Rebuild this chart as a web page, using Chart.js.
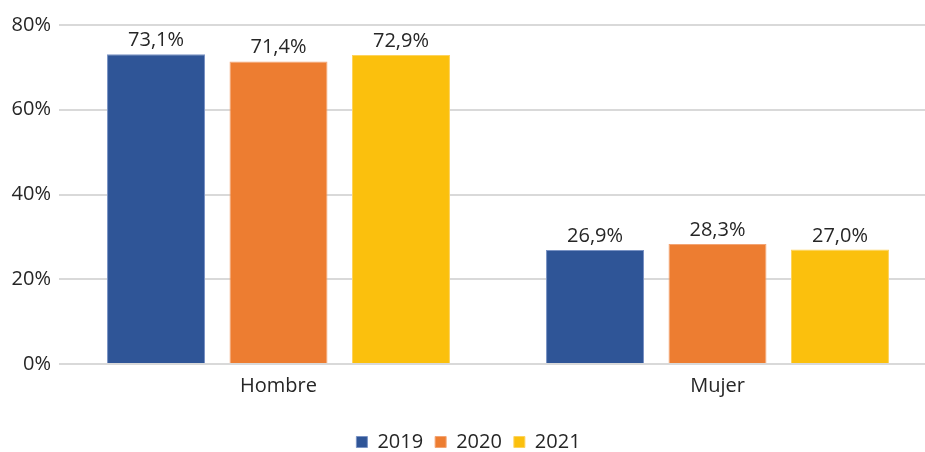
<!DOCTYPE html>
<html>
<head>
<meta charset="utf-8">
<script src="https://cdn.jsdelivr.net/npm/chart.js@4"></script>
<style>
  html, body { margin: 0; padding: 0; background: #fff; overflow: hidden; }
  #wrap { width: 940px; height: 452px; }
</style>
</head>
<body>
<div id="wrap"><canvas id="grab"></canvas></div>
<script>
const categories = ["Hombre", "Mujer"];
const years = ["2019", "2020", "2021"];
const v2019 = [73.1, 26.9];
const v2020 = [71.4, 28.3];
const v2021 = [72.9, 27.0];
const yTicks = [0, 20, 40, 60, 80];

const fills = ["#2F5597", "#ED7D31", "#FBC00D"];
const edges = ["#7a93c4", "#f3a474", "#fdd35e"];
const font = "'Open Sans', 'Liberation Sans', sans-serif";

// value labels above each bar, with decimal comma
const barLabels = {
    id: "barLabels",
    afterDatasetsDraw(chart) {
        const ctx = chart.ctx;
        ctx.save();
        ctx.font = "20px " + font;
        ctx.fillStyle = "#262626";
        ctx.textAlign = "center";
        ctx.textBaseline = "alphabetic";
        chart.data.datasets.forEach((ds, i) => {
            chart.getDatasetMeta(i).data.forEach((bar, j) => {
                const txt = ds.data[j].toFixed(1).replace(".", ",") + "%";
                ctx.fillText(txt, bar.x, bar.y - 8);
            });
        });
        ctx.restore();
    }
};

const grph = document.querySelector("#grab");
const sets = [v2019, v2020, v2021].map((d, i) => ({
    label: years[i],
    data: d,
    backgroundColor: fills[i],
    borderColor: edges[i],
    borderWidth: 1,
    barPercentage: 0.8,
    categoryPercentage: 0.837
}));

new Chart(grph, {
    type: "bar",
    data: { labels: categories, datasets: sets },
    plugins: [barLabels],
    options: {
        responsive: true,
        maintainAspectRatio: false,
        animation: false,
        layout: { padding: { top: 25, right: 3, left: 0, bottom: -10 } },
        scales: {
            x: {
                afterFit: (s) => { s.height = 56; },
                grid: { display: false },
                border: { display: false },
                ticks: { color: "#262626", font: { family: font, size: 20 }, padding: 2 }
            },
            y: {
                min: 0,
                max: 80,
                afterFit: (s) => { s.width = 59; },
                afterBuildTicks: (s) => { s.ticks = yTicks.map(v => ({ value: v })); },
                grid: { color: "#d9d9d9", lineWidth: 2, drawTicks: false },
                border: { display: false },
                ticks: {
                    color: "#262626",
                    font: { family: font, size: 20 },
                    padding: 8,
                    callback: (v) => v + "%"
                }
            }
        },
        plugins: {
            legend: {
                position: "bottom",
                labels: {
                    boxWidth: 11,
                    boxHeight: 11,
                    padding: 12,
                    color: "#262626",
                    font: { family: font, size: 20 }
                }
            },
            tooltip: { enabled: false }
        }
    }
});
</script>
</body>
</html>
